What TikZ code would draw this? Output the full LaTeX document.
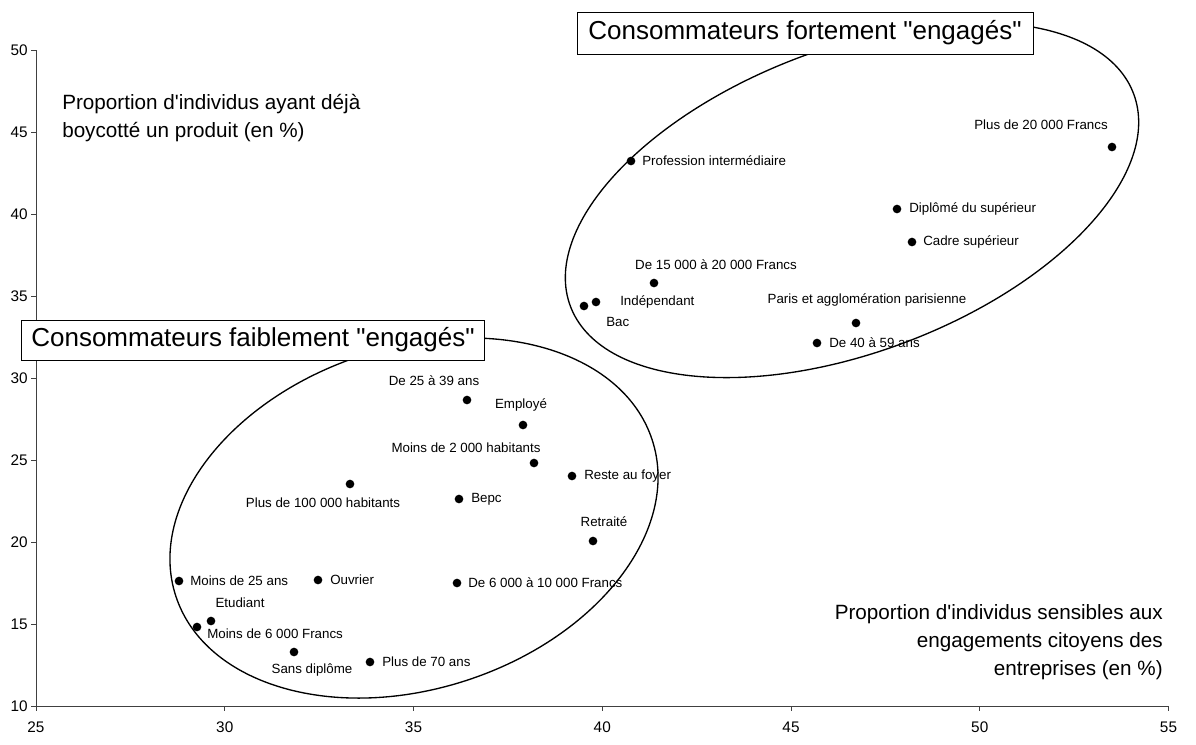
\documentclass[tikz,border=0pt]{standalone}
\usepackage{fontspec}
\setmainfont{Liberation Sans}[Ligatures=TeXOff]
\begin{document}
\begin{tikzpicture}[x=0.75pt,y=-0.75pt,
  dot/.style={circle,fill=black,inner sep=0pt,minimum size=6.5pt},
  lbl/.style={font=\fontsize{10}{12}\selectfont,inner sep=0pt},
  ticklbl/.style={font=\fontsize{11.5}{14}\selectfont,inner sep=0pt},
  axt/.style={font=\fontsize{15.5}{19}\selectfont,inner sep=0pt},
  axisline/.style={line width=0.6pt,black!75},
  titlebox/.style={draw=black,line width=0.6pt,fill=white,font=\fontsize{19.5}{23}\selectfont,inner sep=0pt},
  ell/.style={line width=1pt}
]
\useasboundingbox (0,0) rectangle (1196,744);
% axes
\coordinate (O) at (36,706);
\coordinate (Ytop) at (36,50);
\coordinate (Xend) at (1168.5,706);
\draw[axisline] (Ytop) -- (O) -- (Xend);
\foreach \v in {10,15,20,25,30,35,40,45,50}{
  \pgfmathsetmacro\yy{706-(\v-10)*16.4}
  \draw[axisline] (31,\yy) -- (36,\yy);
  \node[ticklbl,anchor=east] (yl\v) at (28,\yy) {\v};
}
\foreach \v in {25,30,35,40,45,50,55}{
  \pgfmathsetmacro\xx{36+(\v-25)*37.75}
  \draw[axisline] (\xx,706) -- (\xx,711);
  \node[ticklbl] (xl\v) at (\xx,727) {\v};
}
% axis titles
\node[axt,anchor=base west] (yt1) at (62,109) {Proportion d'individus ayant déjà};
\node[axt,anchor=base west] (yt2) at (62,137) {boycotté un produit (en \%)};
\node[axt,anchor=base east] (xt1) at (1163,619) {Proportion d'individus sensibles aux};
\node[axt,anchor=base east] (xt2) at (1163,647) {engagements citoyens des};
\node[axt,anchor=base east] (xt3) at (1163,675) {entreprises (en \%)};
% ellipses
\draw[ell,rotate around={20.7:(852,200)}] (852,200) ellipse [x radius=225.75pt, y radius=114pt];
\draw[ell,rotate around={18.2:(414,518)}] (414,518) ellipse [x radius=188pt, y radius=128pt];
% boxes
\node[titlebox,minimum width=342pt,minimum height=31.5pt] (hi) at (805,33) {Consommateurs fortement "engagés"};
\node[titlebox,minimum width=347pt,minimum height=30pt] (lo) at (253,340) {Consommateurs faiblement "engagés"};
% upper cluster
\node[dot] (p1) at (1112,147) {};
\node[lbl] (t1) at (1041,125) {Plus de 20 000 Francs};
\node[dot] (p2) at (631,161) {};
\node[lbl,anchor=west] (t2) at (642,161) {Profession intermédiaire};
\node[dot] (p3) at (897,209) {};
\node[lbl,anchor=west] (t3) at (909,209) {Diplômé du supérieur};
\node[dot] (p4) at (912,242) {};
\node[lbl,anchor=west] (t4) at (923,242) {Cadre supérieur};
\node[dot] (p5) at (654,283) {};
\node[lbl] (t5) at (716,265) {De 15 000 à 20 000 Francs};
\node[dot] (p6) at (596,302) {};
\node[lbl,anchor=west] (t6) at (620,302) {Indépendant};
\node[dot] (p7) at (584,306) {};
\node[lbl,anchor=west] (t7) at (606,322) {Bac};
\node[dot] (p8) at (856,323) {};
\node[lbl] (t8) at (867,300) {Paris et agglomération parisienne};
\node[dot] (p9) at (817,343) {};
\node[lbl,anchor=west] (t9) at (829,343) {De 40 à 59 ans};
% lower cluster
\node[dot] (q1) at (467,400) {};
\node[lbl] (s1) at (434,381) {De 25 à 39 ans};
\node[dot] (q2) at (523,425) {};
\node[lbl] (s2) at (521,405) {Employé};
\node[dot] (q3) at (534,463) {};
\node[lbl] (s3) at (466,448) {Moins de 2 000 habitants};
\node[dot] (q4) at (572,476) {};
\node[lbl,anchor=west] (s4) at (584,476) {Reste au foyer};
\node[dot] (q5) at (350,484) {};
\node[lbl] (s5) at (323,503) {Plus de 100 000 habitants};
\node[dot] (q6) at (459,499) {};
\node[lbl,anchor=west] (s6) at (471,499) {Bepc};
\node[dot] (q7) at (593,541) {};
\node[lbl] (s7) at (604,522) {Retraité};
\node[dot] (q8) at (179,581) {};
\node[lbl,anchor=west] (s8) at (190,581) {Moins de 25 ans};
\node[dot] (q9) at (318,580) {};
\node[lbl,anchor=west] (s9) at (330,580) {Ouvrier};
\node[dot] (q10) at (457,583) {};
\node[lbl,anchor=west] (s10) at (468,583) {De 6 000 à 10 000 Francs};
\node[dot] (q11) at (211,621) {};
\node[lbl] (s11) at (240,603) {Etudiant};
\node[dot] (q12) at (197,627) {};
\node[lbl,anchor=west] (s12) at (207,634) {Moins de 6 000 Francs};
\node[dot] (q13) at (294,652) {};
\node[lbl] (s13) at (312,670) {Sans diplôme};
\node[dot] (q14) at (370,662) {};
\node[lbl,anchor=west] (s14) at (382,662) {Plus de 70 ans};
\end{tikzpicture}
\end{document}
